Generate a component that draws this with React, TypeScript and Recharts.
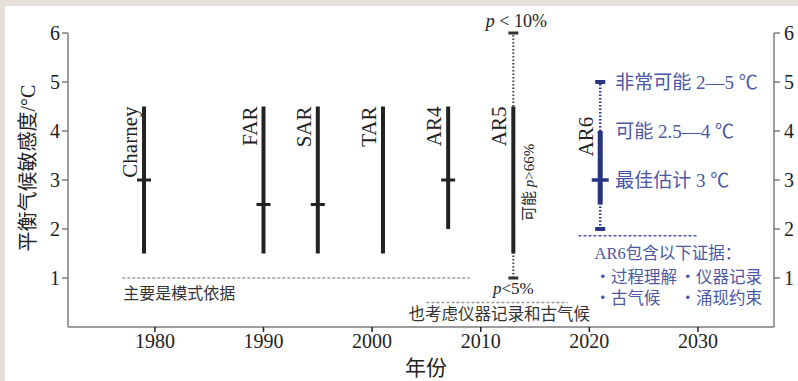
import { ComposedChart, XAxis, YAxis, ReferenceLine, ReferenceDot } from "recharts";

const SERIF = "'Liberation Serif', 'Noto Sans CJK SC', serif";
const INK = "#222";
const AXIS = "#7c7c7c";
const GREY = "#9a9a9a";
const BLUE = "#283482";
const BLUE_TEXT = "#4b57a5";

// 历次评估的可能范围
const reports = ["Charney", "FAR", "SAR", "TAR", "AR4", "AR5"];
const reportYears = [1979, 1990, 1995, 2001, 2007, 2013];
const likelyLow = [1.5, 1.5, 1.5, 1.5, 2, 1.5];
const likelyHigh = [4.5, 4.5, 4.5, 4.5, 4.5, 4.5];
const bestEstimate: (number | null)[] = [3, 2.5, 2.5, null, 3, null];

// AR5 的极可能范围 (p<5%, p<10%)
const ar5Year = 2013;
const ar5Range = [1, 6];

// AR6
const ar6Year = 2021;
const ar6Likely = [2.5, 4];
const ar6VeryLikely = [2, 5];
const ar6Best = 3;

// 证据类型的虚线 [起, 止, 值]
const modelEvidence = [1977, 2009, 1];
const obsEvidence = [2005, 2018, 0.5];
const ar6Evidence = [2019, 2030, 1.86];

const xTicks = [1980, 1990, 2000, 2010, 2020, 2030];
const yTicks = [1, 2, 3, 4, 5, 6];

const rows = reports.map((name, i) => ({
  name,
  year: reportYears[i],
  low: likelyLow[i],
  high: likelyHigh[i],
}));

const hTick = (w: number, sw: number, color: string) => (p: any) => (
  <line x1={p.cx - w / 2} x2={p.cx + w / 2} y1={p.cy} y2={p.cy} stroke={color} strokeWidth={sw} />
);

const upText = (label: string, dx: number, size: number, color = INK) => (p: any) => (
  <text
    x={p.cx + dx}
    y={p.cy}
    transform={`rotate(-90 ${p.cx + dx} ${p.cy})`}
    textAnchor="end"
    fontSize={size}
    fill={color}
    fontFamily={SERIF}
  >
    {label}
  </text>
);

const flatText = (content: any, dx: number, size: number, color: string, anchor = "start") => (p: any) => (
  <text
    x={p.cx + dx}
    y={p.cy}
    textAnchor={anchor}
    dominantBaseline="central"
    fontSize={size}
    fill={color}
    fontFamily={SERIF}
  >
    {content}
  </text>
);

export default function App() {
  return (
    <div
      style={{
        position: "absolute",
        left: 0,
        top: 0,
        width: 793,
        height: 375,
        borderTop: "6px solid #e6dfd8",
        borderLeft: "5px solid #e6dfd8",
        background: "#fff",
      }}
    >
      <ComposedChart
        width={793}
        height={375}
        data={rows}
        margin={{ top: 27, right: 0, bottom: 0, left: 0 }}
        style={{ fontFamily: SERIF }}
      >
        <XAxis
          dataKey="year"
          type="number"
          domain={[1972, 2037]}
          allowDataOverflow
          ticks={xTicks}
          height={54}
          tickSize={5}
          tickMargin={2}
          axisLine={{ stroke: AXIS, strokeWidth: 1.5 }}
          tickLine={{ stroke: INK, strokeWidth: 1.5 }}
          tick={{ fontSize: 20, fill: INK, fontFamily: SERIF }}
          label={({ viewBox }: any) => (
            <text
              x={viewBox.x + 358}
              y={viewBox.y + 41}
              textAnchor="middle"
              dominantBaseline="central"
              fontSize={21}
              fill={INK}
              fontFamily={SERIF}
            >
              年份
            </text>
          )}
        />
        <YAxis
          yAxisId="l"
          type="number"
          domain={[0, 6]}
          allowDataOverflow
          ticks={yTicks}
          width={63}
          tickSize={6}
          tickMargin={2}
          axisLine={{ stroke: AXIS, strokeWidth: 1.5 }}
          tickLine={{ stroke: AXIS, strokeWidth: 1.5 }}
          tick={{ fontSize: 20, fill: INK, fontFamily: SERIF }}
          label={({ viewBox }: any) => {
            const x = viewBox.x + 23;
            const y = viewBox.y + viewBox.height / 2 - 12;
            return (
              <text
                x={x}
                y={y}
                transform={`rotate(-90 ${x} ${y})`}
                textAnchor="middle"
                dominantBaseline="central"
                fontSize={20}
                fill={INK}
                fontFamily={SERIF}
              >
                平衡气候敏感度/°C
              </text>
            );
          }}
        />
        <YAxis
          yAxisId="r"
          orientation="right"
          type="number"
          domain={[0, 6]}
          allowDataOverflow
          ticks={yTicks}
          width={24}
          tickSize={6}
          tickMargin={4}
          axisLine={{ stroke: AXIS, strokeWidth: 1.5 }}
          tickLine={{ stroke: AXIS, strokeWidth: 1.5 }}
          tick={{ fontSize: 20, fill: INK, fontFamily: SERIF }}
        />

        {/* 证据虚线 */}
        <ReferenceLine
          yAxisId="l"
          segment={[{ x: modelEvidence[0], y: modelEvidence[2] }, { x: modelEvidence[1], y: modelEvidence[2] }]}
          stroke={GREY}
          strokeWidth={1.3}
          strokeDasharray="3 2"
        />
        <ReferenceLine
          yAxisId="l"
          segment={[{ x: obsEvidence[0], y: obsEvidence[2] }, { x: obsEvidence[1], y: obsEvidence[2] }]}
          stroke={GREY}
          strokeWidth={1.3}
          strokeDasharray="3 2"
        />
        <ReferenceLine
          yAxisId="l"
          segment={[{ x: ar6Evidence[0], y: ar6Evidence[2] }, { x: ar6Evidence[1], y: ar6Evidence[2] }]}
          stroke={BLUE_TEXT}
          strokeWidth={1.5}
          strokeDasharray="3 2"
        />

        {/* AR5 / AR6 极可能范围 (点线) */}
        <ReferenceLine
          yAxisId="l"
          segment={[{ x: ar5Year, y: ar5Range[0] }, { x: ar5Year, y: ar5Range[1] }]}
          stroke="#444"
          strokeWidth={2}
          strokeDasharray="1.5 2"
        />
        <ReferenceLine
          yAxisId="l"
          segment={[{ x: ar6Year, y: ar6VeryLikely[0] }, { x: ar6Year, y: ar6VeryLikely[1] }]}
          stroke={BLUE}
          strokeWidth={2.5}
          strokeDasharray="1.5 2"
        />

        {/* 可能范围 */}
        {rows.map((r) => (
          <ReferenceLine
            key={r.name}
            yAxisId="l"
            segment={[{ x: r.year, y: r.low }, { x: r.year, y: r.high }]}
            stroke={INK}
            strokeWidth={4}
          />
        ))}
        <ReferenceLine
          yAxisId="l"
          segment={[{ x: ar6Year, y: ar6Likely[0] }, { x: ar6Year, y: ar6Likely[1] }]}
          stroke={BLUE}
          strokeWidth={5}
        />

        {/* 最佳估计与端点 */}
        {rows.map((r, i) =>
          bestEstimate[i] == null ? null : (
            <ReferenceDot
              key={"b" + r.name}
              yAxisId="l"
              x={r.year}
              y={bestEstimate[i] as number}
              r={0}
              ifOverflow="visible"
              shape={hTick(14, 3, INK)}
            />
          )
        )}
        {ar5Range.map((v) => (
          <ReferenceDot key={"c5" + v} yAxisId="l" x={ar5Year} y={v} r={0} ifOverflow="visible" shape={hTick(10, 3, "#333")} />
        ))}
        {ar6VeryLikely.map((v) => (
          <ReferenceDot key={"c6" + v} yAxisId="l" x={ar6Year} y={v} r={0} ifOverflow="visible" shape={hTick(10, 4, BLUE)} />
        ))}
        <ReferenceDot yAxisId="l" x={ar6Year} y={ar6Best} r={0} ifOverflow="visible" shape={hTick(17, 3.5, BLUE)} />

        {/* 报告名称 */}
        {rows.map((r) => (
          <ReferenceDot
            key={"t" + r.name}
            yAxisId="l"
            x={r.year}
            y={r.high}
            r={0}
            ifOverflow="visible"
            shape={upText(r.name, -7, 21)}
          />
        ))}
        <ReferenceDot yAxisId="l" x={ar6Year} y={4.29} r={0} ifOverflow="visible" shape={upText("AR6", -7, 21)} />

        {/* AR5 注释 */}
        <ReferenceDot
          yAxisId="l"
          x={ar5Year}
          y={ar5Range[1]}
          r={0}
          ifOverflow="visible"
          shape={(p: any) => (
            <text x={p.cx + 3} y={p.cy - 6} textAnchor="middle" fontSize={18} fill={INK} fontFamily={SERIF}>
              <tspan fontStyle="italic">p</tspan>{" < 10%"}
            </text>
          )}
        />
        <ReferenceDot
          yAxisId="l"
          x={ar5Year}
          y={ar5Range[0]}
          r={0}
          ifOverflow="visible"
          shape={(p: any) => (
            <text x={p.cx} y={p.cy + 16} textAnchor="middle" fontSize={17} fill={INK} fontFamily={SERIF}>
              <tspan fontStyle="italic">p</tspan>&lt;5%
            </text>
          )}
        />
        <ReferenceDot
          yAxisId="l"
          x={ar5Year}
          y={2.95}
          r={0}
          ifOverflow="visible"
          shape={(p: any) => {
            const x = p.cx + 21;
            return (
              <text
                x={x}
                y={p.cy}
                transform={`rotate(-90 ${x} ${p.cy})`}
                textAnchor="middle"
                fontSize={15}
                fill={INK}
                fontFamily={SERIF}
              >
                可能 <tspan fontStyle="italic">p</tspan>&gt;66%
              </text>
            );
          }}
        />

        {/* 证据说明 */}
        <ReferenceDot yAxisId="l" x={modelEvidence[0]} y={0.69} r={0} ifOverflow="visible" shape={flatText("主要是模式依据", 1, 16, "#333")} />
        <ReferenceDot yAxisId="l" x={obsEvidence[0]} y={0.245} r={0} ifOverflow="visible" shape={flatText("也考虑仪器记录和古气候", -18, 16.5, "#333")} />

        {/* AR6 注释 */}
        <ReferenceDot yAxisId="l" x={ar6Year} y={ar6VeryLikely[1]} r={0} ifOverflow="visible" shape={flatText("非常可能 2—5 ℃", 15, 19, BLUE_TEXT)} />
        <ReferenceDot yAxisId="l" x={ar6Year} y={ar6Likely[1]} r={0} ifOverflow="visible" shape={flatText("可能 2.5—4 ℃", 15, 19, BLUE_TEXT)} />
        <ReferenceDot yAxisId="l" x={ar6Year} y={ar6Best} r={0} ifOverflow="visible" shape={flatText("最佳估计 3 ℃", 15, 19, BLUE_TEXT)} />
        <ReferenceDot yAxisId="l" x={ar6Evidence[0]} y={1.49} r={0} ifOverflow="visible" shape={flatText("AR6包含以下证据：", 16, 16.5, BLUE_TEXT)} />
        <ReferenceDot yAxisId="l" x={ar6Evidence[0]} y={1.02} r={0} ifOverflow="visible" shape={flatText("・过程理解", 16, 16.5, BLUE_TEXT)} />
        <ReferenceDot yAxisId="l" x={ar6Evidence[0]} y={1.02} r={0} ifOverflow="visible" shape={flatText("・仪器记录", 101, 16.5, BLUE_TEXT)} />
        <ReferenceDot yAxisId="l" x={ar6Evidence[0]} y={0.59} r={0} ifOverflow="visible" shape={flatText("・古气候", 16, 16.5, BLUE_TEXT)} />
        <ReferenceDot yAxisId="l" x={ar6Evidence[0]} y={0.59} r={0} ifOverflow="visible" shape={flatText("・涌现约束", 101, 16.5, BLUE_TEXT)} />
      </ComposedChart>
    </div>
  );
}
